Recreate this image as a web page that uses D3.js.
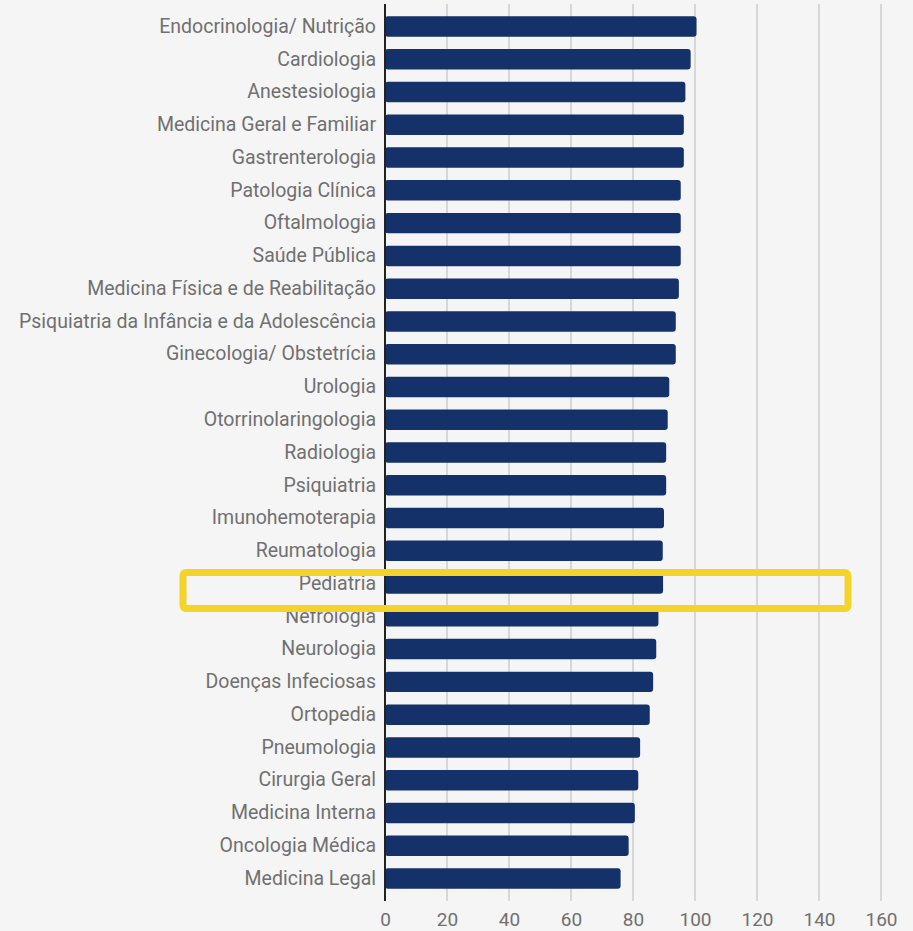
<!DOCTYPE html>
<html>
<head>
<meta charset="utf-8">
<script src="https://cdn.jsdelivr.net/npm/d3@7"></script>
<style>
  html, body { margin: 0; padding: 0; background: #f5f5f5; }
  svg { display: block; font-family: Roboto, "Noto Sans", sans-serif; }
</style>
</head>
<body>
<svg id="chart"></svg>
<script>
const especialidades = [
    "Endocrinologia/ Nutrição", "Cardiologia", "Anestesiologia",
    "Medicina Geral e Familiar", "Gastrenterologia", "Patologia Clínica",
    "Oftalmologia", "Saúde Pública", "Medicina Física e de Reabilitação",
    "Psiquiatria da Infância e da Adolescência", "Ginecologia/ Obstetrícia",
    "Urologia", "Otorrinolaringologia", "Radiologia", "Psiquiatria",
    "Imunohemoterapia", "Reumatologia", "Pediatria", "Nefrologia",
    "Neurologia", "Doenças Infeciosas", "Ortopedia", "Pneumologia",
    "Cirurgia Geral", "Medicina Interna", "Oncologia Médica", "Medicina Legal"
];
const valores = [
    100.5, 98.6, 96.9,
    96.4, 96.4, 95.4,
    95.4, 95.4, 94.8,
    93.8, 93.8,
    91.7, 91.2, 90.7, 90.7,
    90.0, 89.6, 89.7, 88.2,
    87.5, 86.5, 85.4, 82.3,
    81.7, 80.6, 78.6, 76.0
];
const xTicks = [0, 20, 40, 60, 80, 100, 120, 140, 160];
const destaque = "Pediatria";

let data = especialidades.map((e, i) => ({ nome: e, valor: valores[i] }));

let svgWidth = 913, svgHeight = 931;
let margin = { top: 4, right: 32, bottom: 30, left: 385 };
let width = svgWidth - margin.left - margin.right;
let height = svgHeight - margin.top - margin.bottom;

let svg = d3.select("#chart")
    .attr("width", svgWidth)
    .attr("height", svgHeight);

let g = svg.append("g")
    .attr("transform", "translate(" + margin.left + "," + margin.top + ")");

let x = d3.scaleLinear().domain([0, 160]).range([0, width]);
let y = d3.scaleBand()
    .domain(especialidades)
    .range([0, height])
    .paddingInner(0.375)
    .paddingOuter(0.375);

// gridlines
g.append("g")
    .selectAll("line")
    .data(xTicks.slice(1))
    .join("line")
    .attr("x1", d => x(d))
    .attr("x2", d => x(d))
    .attr("y1", 0)
    .attr("y2", height)
    .attr("stroke", "#cccccc")
    .attr("stroke-width", 1.5);

// x tick labels
g.append("g")
    .attr("transform", "translate(0," + height + ")")
    .call(d3.axisBottom(x).tickValues(xTicks).tickSize(0).tickPadding(12))
    .call(ax => ax.select(".domain").remove())
    .selectAll("text")
    .attr("fill", "#707070")
    .style("font-size", "19px")
    .style("font-family", "Roboto, sans-serif");

// bars
g.append("g")
    .selectAll("rect")
    .data(data)
    .join("rect")
    .attr("x", 0)
    .attr("y", d => y(d.nome))
    .attr("width", d => x(d.valor))
    .attr("height", y.bandwidth())
    .attr("rx", 3)
    .attr("fill", "#14316a");

// category labels
g.append("g")
    .call(d3.axisLeft(y).tickSize(0).tickPadding(9))
    .call(ax => ax.select(".domain").remove())
    .selectAll("text")
    .attr("fill", "#707070")
    .style("font-size", "19.5px")
    .style("font-family", "Roboto, sans-serif");

// axis line
g.append("line")
    .attr("x1", 0).attr("x2", 0)
    .attr("y1", 0).attr("y2", height)
    .attr("stroke", "#222")
    .attr("stroke-width", 2);

// highlight box around Pediatria
let by = y(destaque) + y.bandwidth() / 2;
g.append("rect")
    .attr("x", -202)
    .attr("y", by - 11)
    .attr("width", x(150) - (-202) - 2)
    .attr("height", 36)
    .attr("rx", 3)
    .attr("fill", "none")
    .attr("stroke", "#f6d32a")
    .attr("stroke-width", 7);
</script>
</body>
</html>
